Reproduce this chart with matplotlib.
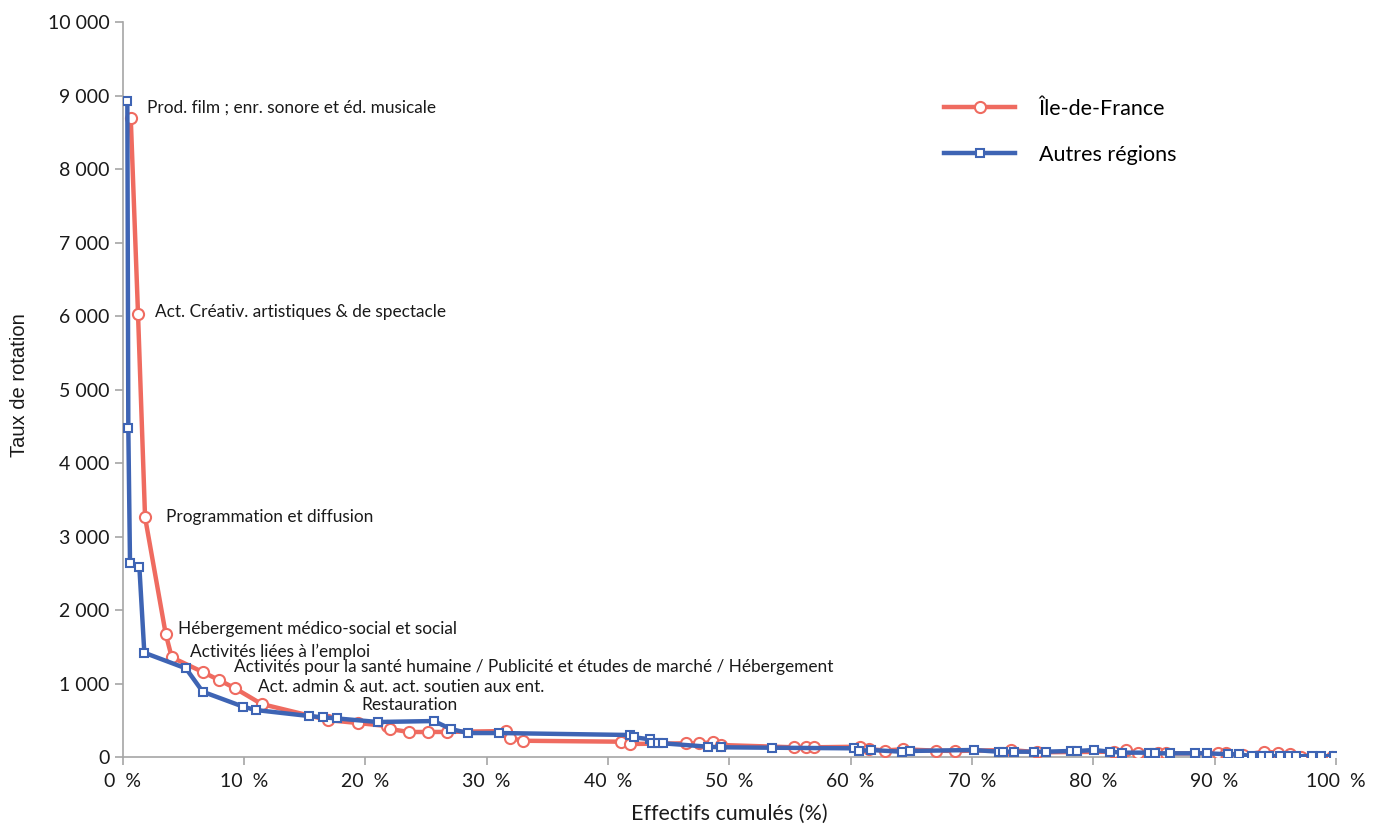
import matplotlib.pyplot as plt
from matplotlib.ticker import FuncFormatter

# Île-de-France : effectifs cumulés (%) / taux de rotation
idf_x = [0.67, 1.27, 1.85, 3.55, 4.05, 6.6, 7.95, 9.25, 11.45, 16.95, 19.4, 21.8, 22.0,
         23.6, 25.2, 26.7, 31.6, 31.9, 33.0, 41.06, 41.8, 46.4, 47.5, 48.7, 49.3, 55.3,
         56.3, 57.0, 60.8, 61.5, 62.8, 64.3, 67.06, 68.6, 73.2, 75.4, 81.75, 82.7, 83.7,
         85.3, 86.0, 90.3, 90.9, 92.3, 94.1, 95.2, 96.2, 97.1, 99.7]
idf_y = [8700, 6030, 3265, 1680, 1360, 1160, 1050, 940, 725, 505, 466, 425, 385,
         344, 344, 345, 357, 262, 225, 212, 181, 190, 190, 205, 167, 136,
         136, 136, 144, 113, 92, 109, 90, 86, 99, 68, 76, 99, 54,
         54, 54, 54, 54, 31, 76, 63, 41, 10, 10]

# Autres régions
aut_x = [0.39, 0.47, 0.61, 1.38, 1.79, 5.22, 6.6, 9.94, 10.96, 15.38, 16.48, 17.69, 21.04,
         25.65, 27.05, 28.45, 31.0, 41.85, 42.15, 43.44, 43.63, 44.13, 44.54, 48.24, 49.35,
         53.55, 60.25, 60.7, 61.65, 64.2, 64.86, 70.13, 72.2, 72.6, 73.5, 75.15, 76.1,
         78.2, 78.7, 80.04, 81.4, 82.4, 84.6, 85.1, 86.3, 88.4, 89.4, 91.1, 92.0, 93.1,
         93.9, 94.5, 95.4, 96.1, 96.7, 98.0, 98.8, 99.8]
aut_y = [8920, 4480, 2636, 2590, 1422, 1209, 892, 688, 643, 561, 544, 528, 480,
         493, 385, 330, 330, 303, 272, 245, 198, 190, 190, 144, 136,
         130, 122, 86, 99, 76, 86, 99, 76, 76, 76, 76, 76,
         86, 86, 99, 76, 63, 63, 54, 54, 54, 54, 41, 41, 15,
         15, 15, 15, 15, 15, 15, 15, 15]

labels = ["Prod. film ; enr. sonore et éd. musicale",
          "Act. Créativ. artistiques & de spectacle",
          "Programmation et diffusion",
          "Hébergement médico-social et social",
          "Activités liées à l’emploi",
          "Activités pour la santé humaine / Publicité et études de marché / Hébergement",
          "Act. admin & aut. act. soutien aux ent.",
          "Restauration"]
label_x = [2.0, 2.67, 3.57, 4.56, 5.55, 9.18, 11.15, 19.64]
label_y = [8840, 6050, 3265, 1745, 1430, 1227, 955, 711]

red = '#EF6B60'
blue = '#3E64B4'
grey = '#A6A6A6'
ink = '#1A1A1A'

plt.rcParams['font.family'] = ['Lato', 'DejaVu Sans']

fig = plt.figure(figsize=(13.73, 8.27), dpi=100)
ax = fig.add_axes([0.0893, 0.0843, 0.8837, 0.889])

ax.plot(idf_x, idf_y, color=red, lw=3.2, marker='o', ms=8, mfc='white',
        mec=red, mew=1.5, label='Île-de-France', zorder=3)
ax.plot(aut_x, aut_y, color=blue, lw=3.2, marker='s', ms=6, mfc='white',
        mec=blue, mew=1.5, label='Autres régions', zorder=4)

for t, x, y in zip(labels, label_x, label_y):
    ax.text(x, y, t, fontsize=12.4, va='center', ha='left', color=ink)

ax.set_xlim(0, 100)
ax.set_ylim(0, 10000)
ax.set_xticks(range(0, 101, 10))
ax.set_yticks(range(0, 10001, 1000))
ax.xaxis.set_major_formatter(FuncFormatter(lambda v, p: f"{int(v)}  %"))
ax.yaxis.set_major_formatter(FuncFormatter(lambda v, p: f"{int(v):,}".replace(",", " ")))

for s in ['top', 'right']:
    ax.spines[s].set_visible(False)
for s in ['left', 'bottom']:
    ax.spines[s].set_color(grey)
    ax.spines[s].set_linewidth(1.2)
ax.tick_params(axis='both', colors=grey, length=6, width=1.2, labelsize=14,
               labelcolor=ink)
ax.tick_params(axis='x', pad=5)

ax.set_xlabel("Effectifs cumulés (%)", fontsize=15.5, color=ink)
ax.xaxis.set_label_coords(0.5, -0.063)
ax.set_ylabel("Taux de rotation", fontsize=14.5, color=ink, family='Liberation Sans')
ax.yaxis.set_label_coords(-0.077, 0.506)

ax.legend(loc='upper left', bbox_to_anchor=(0.661, 0.922), frameon=False, fontsize=15.5,
          handlelength=3.3, handletextpad=1.1, labelspacing=1.2)

fig.savefig('out.png', dpi=100)
